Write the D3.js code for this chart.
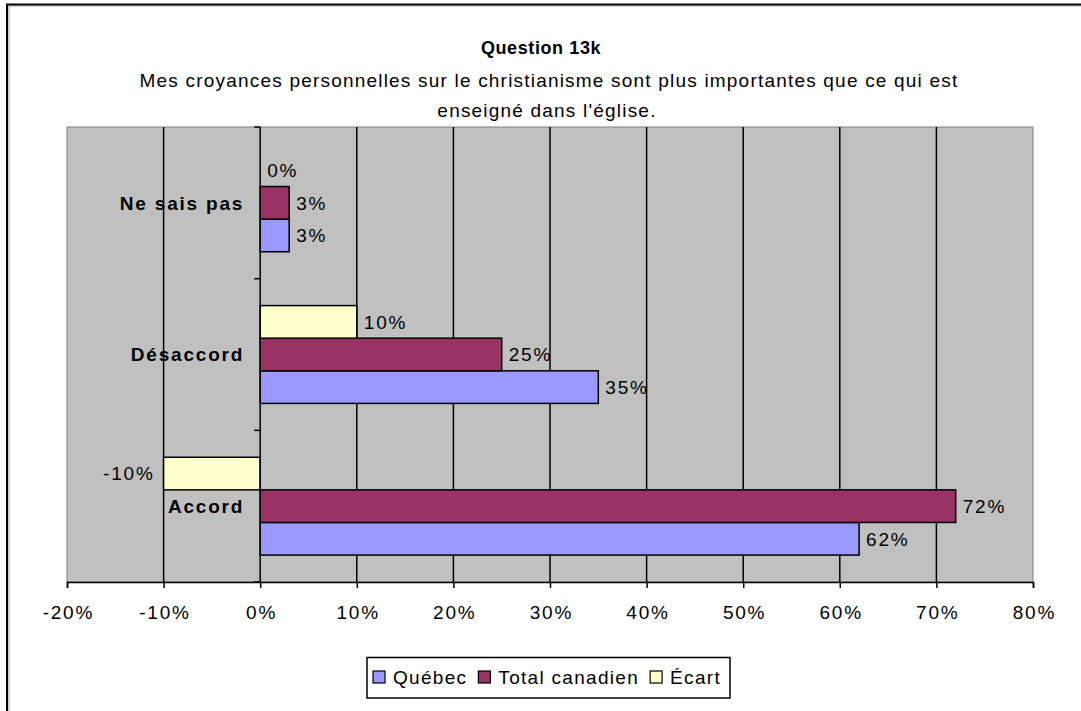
<!DOCTYPE html>
<html>
<head>
<meta charset="utf-8">
<script src="https://cdn.jsdelivr.net/npm/d3@7"></script>
<style>
  html, body { margin: 0; padding: 0; background: #fff; }
  svg { display: block; }
  text { font-family: "Liberation Sans", Arial, sans-serif; }
</style>
</head>
<body>
<svg id="chart" width="1081" height="711"></svg>
<script>
// Answer categories, top to bottom
const categories = ["Ne sais pas", "Désaccord", "Accord"];
// Series, in legend order
const seriesNames = ["Québec", "Total canadien", "Écart"];
const quebec = [3, 35, 62];
const totalCanadien = [3, 25, 72];
const ecart = [0, 10, -10];
const tickValues = [-20, -10, 0, 10, 20, 30, 40, 50, 60, 70, 80];

const seriesValues = [quebec, totalCanadien, ecart];
const colors = { "Québec": "#9999FF", "Total canadien": "#993366", "Écart": "#FFFFCC" };
// Order of the bars inside each category, top to bottom
const stackOrder = ["Écart", "Total canadien", "Québec"];

const FS = 19;          // base font size
const LS_TEXT = 1.2;    // letter spacing for running text
const LS_NUM = 1.8;     // letter spacing for numbers

const svg = d3.select("#chart");
const W = 1081, H = 711;

svg.append("rect").attr("width", W).attr("height", H).attr("fill", "#fff");

// Outer frame (runs off the right and bottom edges)
svg.append("path").attr("d", `M9,${H} V6 H${W}`).attr("fill", "none").attr("stroke", "#a0a0a0").attr("stroke-width", 1);
svg.append("path").attr("d", `M7,${H} V4.5 H${W}`).attr("fill", "none").attr("stroke", "#000").attr("stroke-width", 2);

// Titles
svg.append("text").attr("x", 541).attr("y", 54).attr("text-anchor", "middle")
  .attr("font-weight", "bold").attr("font-size", 18).attr("letter-spacing", 0.6)
  .text("Question 13k");
svg.append("text").attr("x", 549).attr("y", 87).attr("text-anchor", "middle")
  .attr("font-size", FS).attr("letter-spacing", LS_TEXT)
  .text("Mes croyances personnelles sur le christianisme sont plus importantes que ce qui est");
svg.append("text").attr("x", 547).attr("y", 117).attr("text-anchor", "middle")
  .attr("font-size", FS).attr("letter-spacing", LS_TEXT)
  .text("enseigné dans l'église.");

// Plot area
const plot = { left: 67, right: 1033, top: 127, bottom: 582 };
const x = d3.scaleLinear().domain([-20, 80]).range([plot.left, plot.right]);
const y = d3.scaleBand().domain(categories).range([plot.top, plot.bottom])
  .paddingInner(0.355).paddingOuter(0.1775);
const ySeries = d3.scaleBand().domain(stackOrder).range([0, y.bandwidth()]);

svg.append("rect").attr("x", plot.left).attr("y", plot.top)
  .attr("width", plot.right - plot.left).attr("height", plot.bottom - plot.top)
  .attr("fill", "#C0C0C0").attr("stroke", "#808080").attr("stroke-width", 1);

// Vertical gridlines
svg.append("g").selectAll("line")
  .data(tickValues.filter(v => v > -20 && v < 80 && v !== 0))
  .join("line")
  .attr("x1", d => x(d)).attr("x2", d => x(d))
  .attr("y1", plot.top).attr("y2", plot.bottom)
  .attr("stroke", "#000").attr("stroke-width", 1.5);

// Bars
const rows = [];
categories.forEach((c, i) => {
  seriesNames.forEach((s, j) => rows.push({ cat: c, series: s, value: seriesValues[j][i] }));
});

const barG = svg.append("g");
barG.selectAll("rect")
  .data(rows.filter(d => d.value !== 0))
  .join("rect")
  .attr("x", d => Math.min(x(0), x(d.value)))
  .attr("y", d => y(d.cat) + ySeries(d.series))
  .attr("width", d => Math.abs(x(d.value) - x(0)))
  .attr("height", ySeries.bandwidth())
  .attr("fill", d => colors[d.series])
  .attr("stroke", "#000").attr("stroke-width", 1.5);

// Value labels
barG.selectAll("text")
  .data(rows)
  .join("text")
  .attr("x", d => d.value < 0 ? x(d.value) - 9 : x(d.value) + 7)
  .attr("y", d => y(d.cat) + ySeries(d.series) + ySeries.bandwidth() / 2)
  .attr("dy", "0.36em")
  .attr("text-anchor", d => d.value < 0 ? "end" : "start")
  .attr("font-size", FS).attr("letter-spacing", LS_NUM)
  .text(d => d.value + "%");

// X axis
const xAxis = d3.axisBottom(x).tickValues(tickValues).tickSize(6).tickPadding(18)
  .tickFormat(d => d + "%");
const xg = svg.append("g").attr("transform", `translate(0,${plot.bottom})`).call(xAxis);
xg.select(".domain").attr("stroke", "#000").attr("stroke-width", 1.5);
xg.selectAll(".tick line").attr("stroke", "#000").attr("stroke-width", 1.5);
xg.selectAll(".tick text").attr("font-size", FS).attr("fill", "#000")
  .attr("letter-spacing", LS_NUM).attr("dx", LS_NUM / 2)
  .attr("font-family", "'Liberation Sans', Arial, sans-serif");

// Category axis on the zero line
const yg = svg.append("g");
yg.append("line").attr("x1", x(0)).attr("x2", x(0)).attr("y1", plot.top).attr("y2", plot.bottom)
  .attr("stroke", "#000").attr("stroke-width", 1.5);
const bounds = [plot.top, ...categories.slice(1).map(c => y(c) - y.step() * y.paddingInner() / 2), plot.bottom];
yg.selectAll("line.tk").data(bounds).join("line").attr("class", "tk")
  .attr("x1", x(0) - 6).attr("x2", x(0)).attr("y1", d => d).attr("y2", d => d)
  .attr("stroke", "#000").attr("stroke-width", 1.5);
yg.selectAll("text").data(categories).join("text")
  .attr("x", x(0) - 16)
  .attr("y", d => y(d) + y.bandwidth() / 2)
  .attr("dy", "0.36em")
  .attr("text-anchor", "end")
  .attr("font-weight", "bold").attr("font-size", FS).attr("letter-spacing", 1.8)
  .text(d => d);

// Legend
const lg = svg.append("g");
lg.append("rect").attr("x", 367).attr("y", 657.5).attr("width", 363).attr("height", 40.5)
  .attr("fill", "#fff").attr("stroke", "#000").attr("stroke-width", 1.5);
let lx = 373;
seriesNames.forEach(s => {
  lg.append("rect").attr("x", lx).attr("y", 671).attr("width", 12).attr("height", 12)
    .attr("fill", colors[s]).attr("stroke", "#000").attr("stroke-width", 1.2);
  const t = lg.append("text").attr("x", lx + 20).attr("y", 677.5).attr("dy", "0.36em")
    .attr("font-size", FS).attr("letter-spacing", 1.3).text(s);
  lx += 20 + t.node().getComputedTextLength() + 11;
});
</script>
</body>
</html>
